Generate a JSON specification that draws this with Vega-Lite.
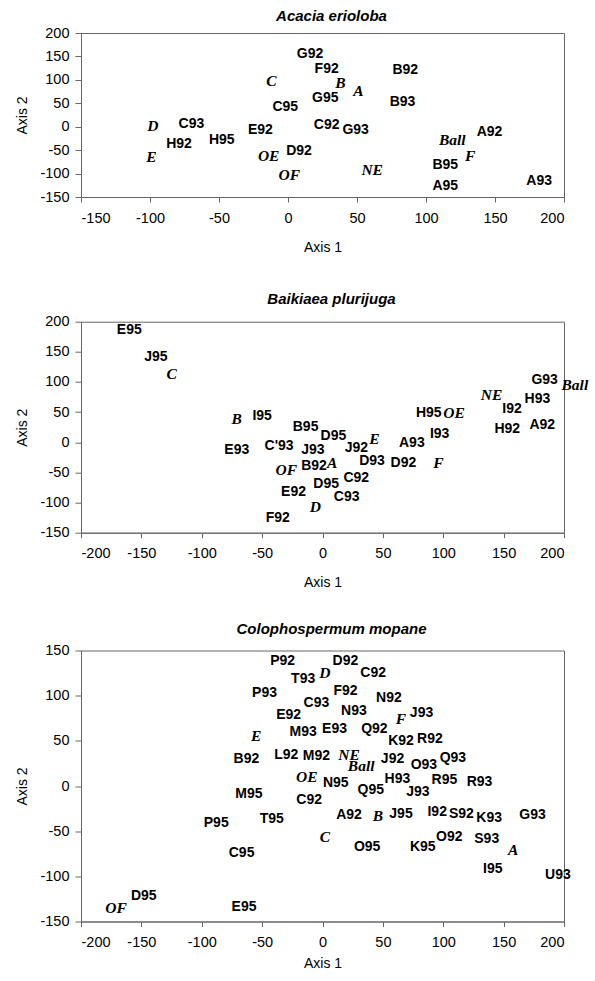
{
  "$schema": "https://vega.github.io/schema/vega-lite/v6.json",
  "padding": {"top": 8, "left": 15, "right": 5, "bottom": 5},
  "spacing": 36.7,
  "config": {
    "font": "Liberation Sans",
    "view": {"stroke": "#666", "strokeWidth": 1},
    "axis": {"grid": false, "domainColor": "#666", "tickColor": "#666", "labelColor": "#000", "titleColor": "#000", "labelFont": "Liberation Sans", "labelFontSize": 14.5, "titleFont": "Liberation Sans", "titleFontSize": 14, "titleFontWeight": "normal", "tickSize": 5, "labelPadding": 9, "labelExpr": "replace(datum.label, '\u2212', '-')"},
    "axisY": {"tickSize": 6, "labelPadding": 6, "titlePadding": 10},
    "title": {"font": "Liberation Sans", "fontSize": 15, "fontStyle": "italic", "fontWeight": "bold", "color": "#000", "dx": 9}
  },
  "datasets": {
    "p1": [
      {"label": "C95", "x": -2, "y": 42, "t": "s"},
      {"label": "C93", "x": -70, "y": 6, "t": "s"},
      {"label": "H92", "x": -79, "y": -36, "t": "s"},
      {"label": "H95", "x": -48, "y": -29, "t": "s"},
      {"label": "E92", "x": -20, "y": -8, "t": "s"},
      {"label": "D92", "x": 8, "y": -52, "t": "s"},
      {"label": "G92", "x": 16, "y": 156, "t": "s"},
      {"label": "F92", "x": 28, "y": 123, "t": "s"},
      {"label": "G95", "x": 27, "y": 62, "t": "s"},
      {"label": "B92", "x": 85, "y": 120, "t": "s"},
      {"label": "B93", "x": 83, "y": 52, "t": "s"},
      {"label": "C92", "x": 28, "y": 3, "t": "s"},
      {"label": "G93", "x": 49, "y": -8, "t": "s"},
      {"label": "A92", "x": 146, "y": -11, "t": "s"},
      {"label": "B95", "x": 114, "y": -82, "t": "s"},
      {"label": "A95", "x": 114, "y": -127, "t": "s"},
      {"label": "A93", "x": 182, "y": -116, "t": "s"},
      {"label": "C", "x": -12, "y": 98, "t": "v"},
      {"label": "D", "x": -98, "y": 1, "t": "v"},
      {"label": "E", "x": -99, "y": -64, "t": "v"},
      {"label": "OE", "x": -14, "y": -63, "t": "v"},
      {"label": "OF", "x": 1, "y": -104, "t": "v"},
      {"label": "B", "x": 38, "y": 94, "t": "v"},
      {"label": "A", "x": 51, "y": 76, "t": "v"},
      {"label": "Ball", "x": 119, "y": -29, "t": "v"},
      {"label": "F", "x": 132, "y": -63, "t": "v"},
      {"label": "NE", "x": 61, "y": -92, "t": "v"}
    ],
    "p2": [
      {"label": "E95", "x": -160, "y": 186, "t": "s"},
      {"label": "J95", "x": -138, "y": 142, "t": "s"},
      {"label": "I95", "x": -50, "y": 43, "t": "s"},
      {"label": "E93", "x": -71, "y": -12, "t": "s"},
      {"label": "C'93", "x": -36, "y": -6, "t": "s"},
      {"label": "E92", "x": -24, "y": -82, "t": "s"},
      {"label": "F92", "x": -37, "y": -126, "t": "s"},
      {"label": "B95", "x": -14, "y": 25, "t": "s"},
      {"label": "D95", "x": 9, "y": 10, "t": "s"},
      {"label": "J93", "x": -8, "y": -12, "t": "s"},
      {"label": "J92", "x": 28, "y": -9, "t": "s"},
      {"label": "B92", "x": -7, "y": -39, "t": "s"},
      {"label": "D93", "x": 41, "y": -31, "t": "s"},
      {"label": "D92", "x": 67, "y": -35, "t": "s"},
      {"label": "C92", "x": 28, "y": -59, "t": "s"},
      {"label": "D95", "x": 3, "y": -69, "t": "s"},
      {"label": "C93", "x": 20, "y": -91, "t": "s"},
      {"label": "A93", "x": 74, "y": -2, "t": "s"},
      {"label": "I93", "x": 97, "y": 13, "t": "s"},
      {"label": "H95", "x": 88, "y": 49, "t": "s"},
      {"label": "I92", "x": 157, "y": 56, "t": "s"},
      {"label": "H93", "x": 178, "y": 72, "t": "s"},
      {"label": "G93", "x": 184, "y": 103, "t": "s"},
      {"label": "H92", "x": 153, "y": 22, "t": "s"},
      {"label": "A92", "x": 182, "y": 28, "t": "s"},
      {"label": "C", "x": -125, "y": 113, "t": "v"},
      {"label": "B", "x": -71, "y": 38, "t": "v"},
      {"label": "OF", "x": -30, "y": -46, "t": "v"},
      {"label": "E", "x": 43, "y": 6, "t": "v"},
      {"label": "A", "x": 8, "y": -34, "t": "v"},
      {"label": "F", "x": 96, "y": -35, "t": "v"},
      {"label": "D", "x": -6, "y": -107, "t": "v"},
      {"label": "OE", "x": 109, "y": 48, "t": "v"},
      {"label": "NE", "x": 140, "y": 78, "t": "v"},
      {"label": "Ball", "x": 209, "y": 95, "t": "v"}
    ],
    "p3": [
      {"label": "P92", "x": -33, "y": 138, "t": "s"},
      {"label": "D92", "x": 19, "y": 138, "t": "s"},
      {"label": "T93", "x": -16, "y": 118, "t": "s"},
      {"label": "C92", "x": 42, "y": 125, "t": "s"},
      {"label": "P93", "x": -48, "y": 103, "t": "s"},
      {"label": "F92", "x": 19, "y": 105, "t": "s"},
      {"label": "C93", "x": -5, "y": 92, "t": "s"},
      {"label": "N92", "x": 55, "y": 97, "t": "s"},
      {"label": "E92", "x": -28, "y": 79, "t": "s"},
      {"label": "N93", "x": 26, "y": 83, "t": "s"},
      {"label": "J93", "x": 82, "y": 81, "t": "s"},
      {"label": "M93", "x": -16, "y": 60, "t": "s"},
      {"label": "E93", "x": 10, "y": 63, "t": "s"},
      {"label": "Q92", "x": 43, "y": 63, "t": "s"},
      {"label": "K92", "x": 65, "y": 50, "t": "s"},
      {"label": "R92", "x": 89, "y": 52, "t": "s"},
      {"label": "B92", "x": -63, "y": 30, "t": "s"},
      {"label": "L92", "x": -30, "y": 34, "t": "s"},
      {"label": "M92", "x": -5, "y": 33, "t": "s"},
      {"label": "J92", "x": 58, "y": 30, "t": "s"},
      {"label": "O93", "x": 84, "y": 23, "t": "s"},
      {"label": "Q93", "x": 108, "y": 31, "t": "s"},
      {"label": "N95", "x": 11, "y": 3, "t": "s"},
      {"label": "Q95", "x": 40, "y": -4, "t": "s"},
      {"label": "H93", "x": 62, "y": 8, "t": "s"},
      {"label": "J93", "x": 79, "y": -7, "t": "s"},
      {"label": "R95", "x": 101, "y": 7, "t": "s"},
      {"label": "R93", "x": 130, "y": 4, "t": "s"},
      {"label": "M95", "x": -61, "y": -9, "t": "s"},
      {"label": "C92", "x": -11, "y": -16, "t": "s"},
      {"label": "P95", "x": -88, "y": -41, "t": "s"},
      {"label": "T95", "x": -42, "y": -37, "t": "s"},
      {"label": "C95", "x": -67, "y": -74, "t": "s"},
      {"label": "D95", "x": -148, "y": -122, "t": "s"},
      {"label": "E95", "x": -65, "y": -134, "t": "s"},
      {"label": "A92", "x": 22, "y": -32, "t": "s"},
      {"label": "J95", "x": 65, "y": -31, "t": "s"},
      {"label": "I92", "x": 95, "y": -29, "t": "s"},
      {"label": "S92", "x": 115, "y": -31, "t": "s"},
      {"label": "K93", "x": 138, "y": -35, "t": "s"},
      {"label": "G93", "x": 174, "y": -32, "t": "s"},
      {"label": "O95", "x": 37, "y": -68, "t": "s"},
      {"label": "K95", "x": 83, "y": -67, "t": "s"},
      {"label": "O92", "x": 105, "y": -57, "t": "s"},
      {"label": "S93", "x": 136, "y": -59, "t": "s"},
      {"label": "I95", "x": 141, "y": -92, "t": "s"},
      {"label": "U93", "x": 195, "y": -98, "t": "s"},
      {"label": "D", "x": 2, "y": 125, "t": "v"},
      {"label": "F", "x": 65, "y": 74, "t": "v"},
      {"label": "E", "x": -55, "y": 55, "t": "v"},
      {"label": "NE", "x": 22, "y": 34, "t": "v"},
      {"label": "Ball", "x": 32, "y": 22, "t": "v"},
      {"label": "OE", "x": -13, "y": 10, "t": "v"},
      {"label": "C", "x": 2, "y": -57, "t": "v"},
      {"label": "B", "x": 46, "y": -33, "t": "v"},
      {"label": "A", "x": 158, "y": -71, "t": "v"},
      {"label": "OF", "x": -171, "y": -135, "t": "v"}
    ]
  },
  "vconcat": [
    {
      "title": {"text": "Acacia erioloba", "offset": 1},
      "width": 483,
      "height": 164,
      "data": {"name": "p1"},
      "encoding": {
        "x": {"field": "x", "type": "quantitative", "scale": {"domain": [-150, 200], "nice": false, "zero": false}, "axis": {"title": "Axis 1", "values": [-150, -100, -50, 0, 50, 100, 150, 200], "titlePadding": 15.5}},
        "y": {"field": "y", "type": "quantitative", "scale": {"domain": [-150, 200], "nice": false, "zero": false}, "axis": {"title": "Axis 2", "values": [-150, -100, -50, 0, 50, 100, 150, 200]}},
        "text": {"field": "label"}
      },
      "layer": [
        {"transform": [{"filter": "datum.t == 's'"}], "mark": {"type": "text", "font": "Liberation Sans", "fontWeight": "bold", "fontSize": 14, "align": "center", "baseline": "middle", "color": "#000"}},
        {"transform": [{"filter": "datum.t == 'v'"}], "mark": {"type": "text", "font": "Liberation Serif", "fontStyle": "italic", "fontWeight": "bold", "fontSize": 15.5, "align": "center", "baseline": "middle", "color": "#000"}}
      ]
    },
    {
      "spacing": 29.8,
      "vconcat": [
        {
          "title": {"text": "Baikiaea plurijuga", "offset": 6.5},
          "width": 483,
          "height": 211,
          "data": {"name": "p2"},
          "encoding": {
            "x": {"field": "x", "type": "quantitative", "scale": {"domain": [-200, 200], "nice": false, "zero": false}, "axis": {"title": "Axis 1", "values": [-200, -150, -100, -50, 0, 50, 100, 150, 200], "titlePadding": 15.5}},
            "y": {"field": "y", "type": "quantitative", "scale": {"domain": [-150, 200], "nice": false, "zero": false}, "axis": {"title": "Axis 2", "values": [-150, -100, -50, 0, 50, 100, 150, 200]}},
            "text": {"field": "label"}
          },
          "layer": [
            {"transform": [{"filter": "datum.t == 's'"}], "mark": {"type": "text", "font": "Liberation Sans", "fontWeight": "bold", "fontSize": 14, "align": "center", "baseline": "middle", "color": "#000"}},
            {"transform": [{"filter": "datum.t == 'v'"}], "mark": {"type": "text", "font": "Liberation Serif", "fontStyle": "italic", "fontWeight": "bold", "fontSize": 15.5, "align": "center", "baseline": "middle", "color": "#000"}}
          ]
        },
        {
          "title": {"text": "Colophospermum mopane", "offset": 6},
          "width": 483,
          "height": 271,
          "data": {"name": "p3"},
          "encoding": {
            "x": {"field": "x", "type": "quantitative", "scale": {"domain": [-200, 200], "nice": false, "zero": false}, "axis": {"title": "Axis 1", "values": [-200, -150, -100, -50, 0, 50, 100, 150, 200], "titlePadding": 7}},
            "y": {"field": "y", "type": "quantitative", "scale": {"domain": [-150, 150], "nice": false, "zero": false}, "axis": {"title": "Axis 2", "values": [-150, -100, -50, 0, 50, 100, 150]}},
            "text": {"field": "label"}
          },
          "layer": [
            {"transform": [{"filter": "datum.t == 's'"}], "mark": {"type": "text", "font": "Liberation Sans", "fontWeight": "bold", "fontSize": 14, "align": "center", "baseline": "middle", "color": "#000"}},
            {"transform": [{"filter": "datum.t == 'v'"}], "mark": {"type": "text", "font": "Liberation Serif", "fontStyle": "italic", "fontWeight": "bold", "fontSize": 15.5, "align": "center", "baseline": "middle", "color": "#000"}}
          ]
        }
      ]
    }
  ]
}
